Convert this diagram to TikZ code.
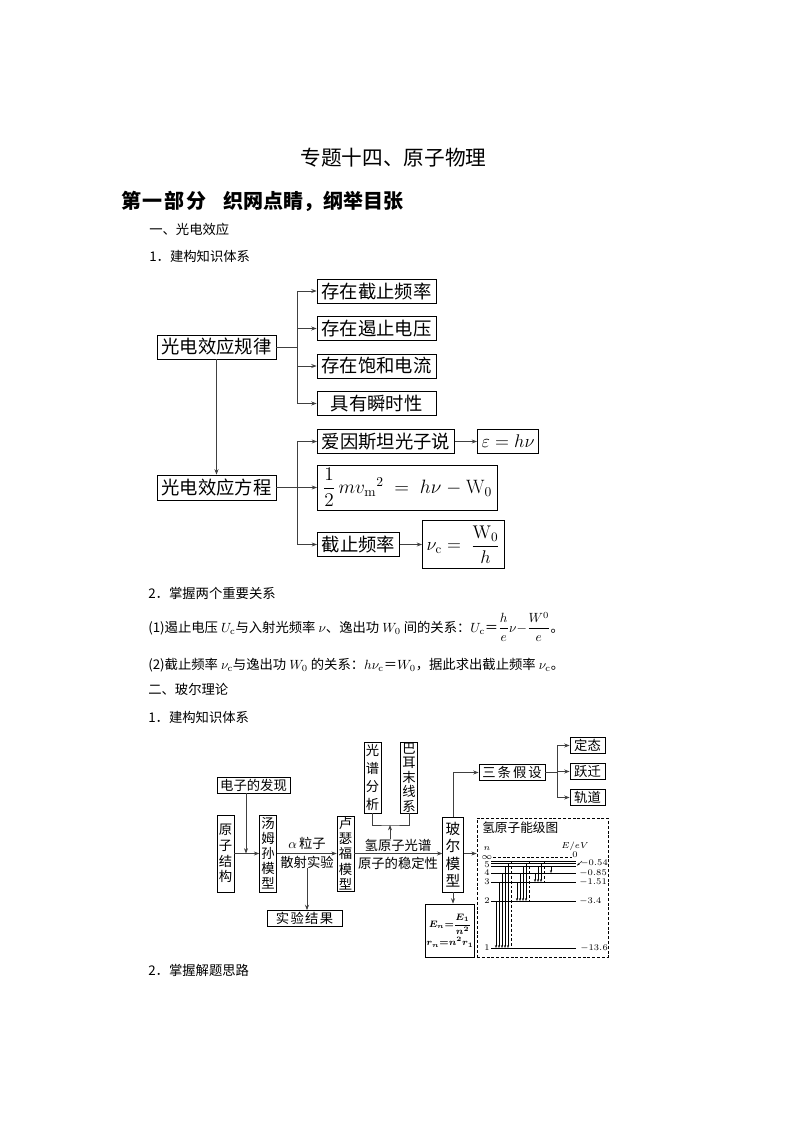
\RequirePackage{fix-cm}
\documentclass[tikz,border=0pt]{standalone}
\usepackage{fontspec}
\setmainfont{Noto Sans CJK SC}
\setmathrm{Latin Modern Roman}
\usepackage{amsmath}
\usepackage{tikz}
\usetikzlibrary{arrows.meta,positioning}

\begin{document}
\begin{tikzpicture}[x=0.75pt,y=-0.75pt,
  box/.style={draw, line width=0.6pt, inner xsep=3.2pt, inner ysep=0pt, minimum height=18pt, font=\fontsize{13.75}{16}\selectfont},
  wbox/.style={box, minimum width=89.25pt},
  sbox/.style={draw, line width=0.6pt, inner xsep=2.4pt, inner ysep=0pt, minimum height=12pt, font=\fontsize{10}{12}\selectfont},
  vbox/.style={draw, line width=0.6pt, align=center, inner xsep=1.3pt, inner ysep=0pt},
  txt/.style={anchor=base west, inner sep=0pt, font=\fontsize{10}{12}\selectfont},
  lbl/.style={inner sep=0pt, font=\fontsize{10}{12}\selectfont},
  link/.style={line width=0.5pt, draw=black!75},
  arr/.style={link, -{Stealth[length=4pt,width=3pt]}},
  lvl/.style={line width=0.5pt},
  jump/.style={line width=0.3pt, -{Stealth[length=2.2pt,width=1.6pt]}},
  dots/.style={line width=0.5pt, dash pattern=on 2.2pt off 1.4pt},
  num/.style={inner sep=0pt, font=\fontsize{6.5}{7}\selectfont}
]
\fill[white] (0,0) rectangle (794,1123);

% headings
\node[inner sep=0pt, font=\fontsize{15.5}{18}\selectfont] (title) at (393.5,158) {专题十四、原子物理};
\node[anchor=west, inner sep=0pt, font=\fontsize{15}{18}\selectfont\bfseries] (part) at (121,201) {第\hspace{1.2pt}一\hspace{1.2pt}部\hspace{1.2pt}分};
\node[anchor=west, inner sep=0pt, font=\fontsize{15}{18}\selectfont\bfseries] (motto) at (223,201) {织网点睛，纲举目张};
\node[txt] (sec1) at (149,234) {一、光电效应};
\node[txt] (sub1) at (149,262) {1．建构知识体系};

% photoelectric effect
\node[wbox] (law) at (216.5,347) {光电效应规律};
\node[wbox] (r1) at (376.5,291) {存在截止频率};
\node[wbox] (r2) at (376.5,328.5) {存在遏止电压};
\node[wbox] (r3) at (376.5,366) {存在饱和电流};
\node[wbox] (r4) at (376.5,403.5) {具有瞬时性};
\node[wbox, minimum height=18.75pt] (eq) at (216.5,487.5) {光电效应方程};
\node[box, anchor=west] (e1) at (317,441.5) {爱因斯坦光子说};
\node[box, anchor=west, minimum width=43.5pt] (e1b) at (477,441.5) {$\varepsilon=h\nu$};
\node[box, anchor=west, minimum height=33.75pt, inner xsep=4pt, text width=127pt, align=left, font=\fontsize{14.5}{16}\selectfont] (e2) at (317,487.5) {$\dfrac{1}{2}\,mv_{\mathrm{m}}{}^{2}\;=\;h\nu\,-\,\mathrm{W}_0$};
\node[box, anchor=west] (e3) at (317,544.5) {截止频率};
\node[box, anchor=west, minimum width=56.25pt, minimum height=36pt] (e3b) at (422,544.5) {$\nu_{\mathrm{c}}=\;\dfrac{\mathrm{W}_0}{h}$};

\coordinate (lawfork) at (297,347);
\draw[link] (law) -- (lawfork);
\draw[link] (lawfork |- r1) -- (lawfork |- r4);
\foreach \i in {1,...,4} \draw[arr] (lawfork |- r\i) -- (r\i);
\draw[arr] (law) -- (eq);
\coordinate (eqfork) at (297,487.5);
\draw[link] (eqfork |- e1) -- (eqfork |- e3);
\draw[arr] (eq) -- (e2);
\draw[arr] (eqfork |- e1) -- (e1);
\draw[arr] (eqfork |- e3) -- (e3);
\draw[arr] (e1) -- (e1b);
\draw[arr] (e3) -- (e3b);

% relations
\node[txt] (sub2) at (148,598) {2．掌握两个重要关系};
\node[txt] (rel1) at (148,632) {(1)遏止电压 $U_{\mathrm c}$与入射光频率 $\nu$、逸出功 $W_0$ 间的关系：$U_{\mathrm c}$＝$\dfrac{h}{e}\nu{-}\dfrac{W^0}{e}$。};
\node[txt] (rel2) at (148,669) {(2)截止频率 $\nu_{\mathrm c}$与逸出功 $W_0$ 的关系：$h\nu_{\mathrm c}$＝$W_0$，据此求出截止频率 $\nu_{\mathrm c}$。};
\node[txt] (sec2) at (148,694) {二、玻尔理论};
\node[txt] (sub3) at (148,722) {1．建构知识体系};

% Bohr theory
\node[sbox, minimum width=54.75pt] (found) at (253.5,785) {电子的发现};
\node[vbox, minimum height=57.75pt, font=\fontsize{10}{11.8}\selectfont] (atom) at (225.5,853.5) {原\\子\\结\\构};
\node[vbox, minimum height=57.75pt, font=\fontsize{10}{11.25}\selectfont] (thom) at (268,853.5) {汤\\姆\\孙\\模\\型};
\node[vbox, minimum height=56.25pt, font=\fontsize{10}{11.4}\selectfont] (ruth) at (345.5,853.5) {卢\\瑟\\福\\模\\型};
\node[vbox, minimum height=56.25pt, inner xsep=2.2pt, font=\fontsize{11}{13}\selectfont] (bohr) at (453,854.5) {玻\\尔\\模\\型};
\node[sbox, minimum width=56.25pt] (result) at (304.5,918.5) {实\hspace{1pt}验\hspace{1pt}结\hspace{1pt}果};
\node[vbox, minimum height=53.25pt, font=\fontsize{10}{13.7}\selectfont] (spec) at (372.5,777.5) {光\\谱\\分\\析};
\node[vbox, minimum height=53.25pt, font=\fontsize{10}{10.8}\selectfont] (balmer) at (409,777.5) {巴\\耳\\末\\线\\系};
\node[lbl] (alpha) at (307,843) {$\alpha$\,粒子};
\node[lbl] (scatter) at (307,862) {散射实验};
\node[lbl] (hydro) at (398,845) {氢原子光谱};
\node[lbl] (stable) at (398,863) {原子的稳定性};
\node[sbox, minimum width=49.5pt] (three) at (512,772.5) {三\hspace{1.5pt}条\hspace{1.5pt}假\hspace{1.5pt}设};
\node[sbox, minimum width=26.25pt] (st1) at (587.5,745.5) {定态};
\node[sbox, minimum width=26.25pt] (st2) at (587.5,771.5) {跃迁};
\node[sbox, minimum width=26.25pt] (st3) at (587.5,797.5) {轨道};
\node[draw, line width=0.6pt, inner sep=0.8pt, minimum width=27.75pt, minimum height=39.75pt, align=center, font=\fontsize{7}{9}\selectfont\boldmath] (bohrfor) at (450,930.5) {$E_n{=}\dfrac{E_1}{n^2}$\\[1.5pt]$r_n{=}n^2r_1$};
\node[draw, dots, minimum width=98.25pt, minimum height=104.25pt] (levels) at (542.5,887.5) {};
\node[anchor=west, inner sep=0pt, font=\fontsize{9.5}{11}\selectfont] (leveltitle) at (482,828) {氢原子能级图};

\draw[arr] (atom) -- (thom);
\coordinate (foundfoot) at (246,853.5);
\draw[arr] (found.south -| foundfoot) -- (foundfoot);
\draw[arr] (thom) -- (ruth);
\draw[arr] (scatter.south) -- (scatter.south |- result.north);
\draw[arr] (ruth.east) -- (ruth.east -| bohr.west);
\coordinate (specjoin) at (390,825);
\draw[link] (spec.south) |- (specjoin) -| (balmer.south);
\draw[arr] (hydro.north -| specjoin) -- (specjoin);
\draw[arr] (bohr.north) |- (three.west);
\coordinate (threefork) at (557,772.5);
\draw[link] (three) -- (threefork);
\draw[link] (threefork |- st1) -- (threefork |- st3);
\foreach \s in {st1,st2,st3} \draw[arr] (threefork |- \s) -- (\s);
\draw[arr] (bohr.south) -- (bohr.south |- bohrfor.north);
\draw[arr] (bohr.east |- ruth.east) -- (ruth.east -| levels.west);

% energy levels
\draw[dots] (493,857) -- (572,857);
\foreach \y in {861.5,863.5,866,873,882,901,948} \draw[lvl] (491,\y) -- (576,\y);
\node[num] (nlab) at (487,849) {$n$};
\node[num] (inflab) at (487,857.5) {$\infty$};
\node[num] at (487,865) {$5$};
\node[num] at (487,873) {$4$};
\node[num] at (487,882) {$3$};
\node[num] at (487,901) {$2$};
\node[num] at (487,948) {$1$};
\node[num] (unit) at (575,846.5) {$E/eV$};
\node[num] at (575,855) {$0$};
\node[num, anchor=west] at (580,863) {$-0.54$};
\node[num, anchor=west] at (579,873) {$-0.85$};
\node[num, anchor=west] at (579,882) {$-1.51$};
\node[num, anchor=west] at (579,901) {$-3.4$};
\node[num, anchor=west] at (580,948) {$-13.6$};
\draw[jump] (582,861) -- (577,865.5);
% series
\foreach \x/\y in {496/901,499/882,502/873,505/866,508/863.5} \draw[jump] (\x,\y) -- (\x,948);
\draw[dots] (511,861.5) -- (511,948);
\foreach \x/\y in {517/882,520/873,523/866,526/863.5} \draw[jump] (\x,\y) -- (\x,901);
\draw[dots] (529,861.5) -- (529,901);
\foreach \x/\y in {535/873,538/866,541/863.5} \draw[jump] (\x,\y) -- (\x,882);
\draw[dots] (544,861.5) -- (544,882);
\draw[jump] (551,866) -- (551,873);

\node[txt] (sub4) at (148,975) {2．掌握解题思路};
\end{tikzpicture}
\end{document}
